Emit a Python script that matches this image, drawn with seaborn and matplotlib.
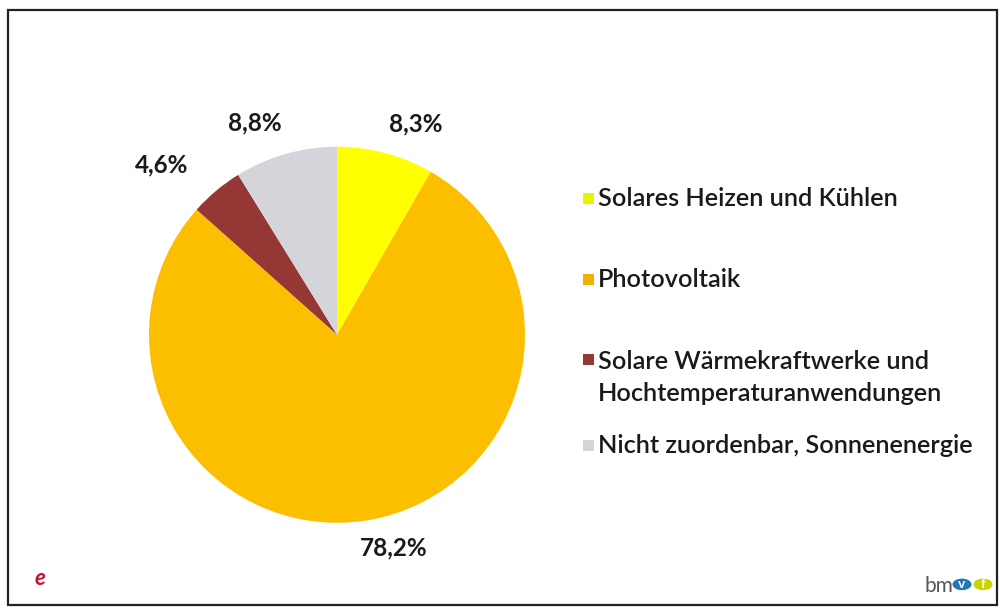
import matplotlib
matplotlib.use("Agg")
import matplotlib.pyplot as plt
import seaborn as sns
import numpy as np
from matplotlib.patches import Rectangle, Circle

# Daten aus dem Bild
kategorien = [
    "Solares Heizen und Kühlen",
    "Photovoltaik",
    "Solare Wärmekraftwerke und\nHochtemperaturanwendungen",
    "Nicht zuordenbar, Sonnenenergie",
]
anteile = [8.3, 78.2, 4.6, 8.8]
beschriftung = ["8,3%", "78,2%", "4,6%", "8,8%"]

farben = ["#FFFF00", "#FBBF00", "#953735", "#D4D4DA"]
legenden_farben = ["#E6F500", "#F2B000", "#953735", "#D4D4DA"]

sns.set_theme(style="white")
plt.rcParams["font.family"] = ["Lato", "DejaVu Sans"]

fig = plt.figure(figsize=(10, 6.1), dpi=100)
fig.patch.set_facecolor("white")

# Rahmen
fig.patches.append(Rectangle((0.008, 0.008), 0.989, 0.975, transform=fig.transFigure,
                             fill=False, edgecolor="#222222", linewidth=1.6))

ax = fig.add_axes([0.149, 0.143, 0.376, 0.6164])
wedges, _ = ax.pie(anteile, colors=farben, startangle=90, counterclock=False,
                   radius=1, wedgeprops=dict(linewidth=0))
ax.set_xlim(-1, 1)
ax.set_ylim(-1, 1)
ax.set_aspect("equal")
ax.axis("off")

# Beschriftungen ausserhalb der Stücke (wie Excel "Ende außerhalb")
abstand = [1.16, 1.15, 1.30, 1.17]
versatz = [(0.12, 0.0), (0.12, 0.0), (-0.1, -0.09), (-0.12, 0.0)]
for w, txt, r, (dx, dy) in zip(wedges, beschriftung, abstand, versatz):
    mitte = np.deg2rad((w.theta1 + w.theta2) / 2)
    x = r * np.cos(mitte) + dx
    y = r * np.sin(mitte) + dy
    ax.text(x, y, txt, ha="center", va="center", fontsize=17.5, fontweight="bold",
            color="#1a1a1a", clip_on=False)

# Legende
leg_y = [0.675, 0.541, 0.381, 0.27]
for farbe, text, y in zip(legenden_farben, kategorien, leg_y):
    zeilen = text.count("\n")
    y_marker = y + (0.029 if zeilen else 0)
    fig.patches.append(Rectangle((0.583, y_marker - 0.009), 0.0105, 0.018,
                                 transform=fig.transFigure, facecolor=farbe,
                                 edgecolor="none"))
    fig.text(0.598, y, text, ha="left", va="center", fontsize=18.2,
             fontweight="semibold", color="#1a1a1a", linespacing=1.45)

# Logos
fig.text(0.04, 0.052, "e", color="#C8102E", fontsize=16, fontstyle="italic",
         fontweight="bold", ha="center", va="center")
fig.text(0.953, 0.04, "bm", color="#555555", fontsize=15, ha="right", va="center")
fig.patches.append(Circle((0.962, 0.042), 0.0095, transform=fig.transFigure,
                          facecolor="#1F78B4", edgecolor="none"))
fig.patches.append(Circle((0.983, 0.042), 0.0095, transform=fig.transFigure,
                          facecolor="#C8D400", edgecolor="none"))
fig.text(0.962, 0.042, "v", color="white", fontsize=10, fontweight="bold",
         ha="center", va="center")
fig.text(0.983, 0.042, "f", color="white", fontsize=10, fontweight="bold",
         ha="center", va="center")

fig.savefig("out.png", dpi=100, facecolor="white")
